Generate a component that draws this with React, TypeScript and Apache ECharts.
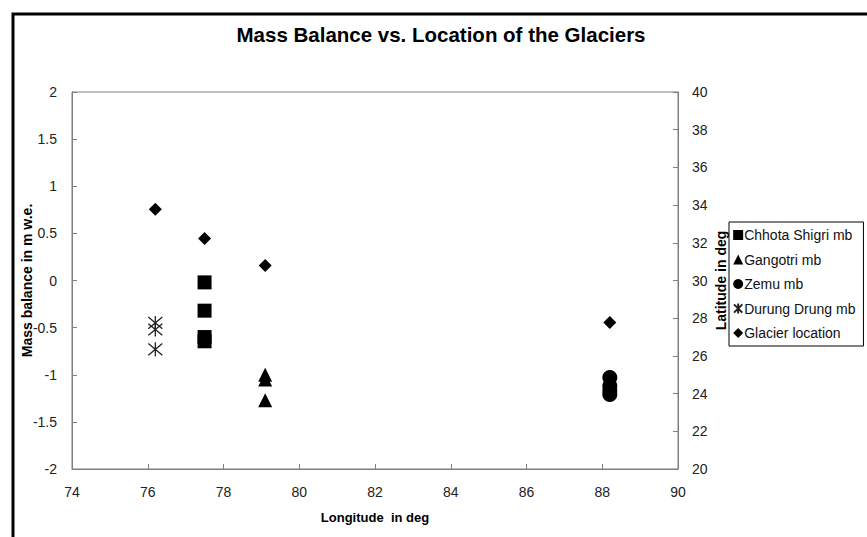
import React, { useEffect, useRef } from "react";
import * as echarts from "echarts";

const seriesNames = ["Chhota Shigri mb", "Gangotri mb", "Zemu mb", "Durung Drung mb", "Glacier location"];

const chhotaLon = [77.5, 77.5, 77.5, 77.5];
const chhotaMb = [-0.02, -0.32, -0.6, -0.645];

const gangotriLon = [79.1, 79.1, 79.1];
const gangotriMb = [-1.0, -1.05, -1.27];

const zemuLon = [88.2, 88.2, 88.2, 88.2];
const zemuMb = [-1.03, -1.12, -1.17, -1.21];

const durungLon = [76.2, 76.2, 76.2];
const durungMb = [-0.45, -0.52, -0.73];

const locLon = [76.2, 77.5, 79.1, 88.2];
const locLat = [33.78, 32.23, 30.8, 27.77];

const xTicks = [74, 76, 78, 80, 82, 84, 86, 88, 90];

const pairs = (xs: number[], ys: number[]) => xs.map((x, i) => [x, ys[i]]);

const ASTERISK = "path://M0,0 L10,10 M10,0 L0,10 M5,-1 L5,11";

export default function App() {
  const ref = useRef<HTMLDivElement>(null);
  useEffect(() => {
    document.body.style.margin = "0";
    const chart = echarts.init(ref.current!, null, { renderer: "svg" });
    const font = "Liberation Sans, Arial, sans-serif";
    const axisLineStyle = { color: "#7f7f7f", width: 1 };
    const solid = { color: "#000", opacity: 1 };
    chart.setOption({
      animation: false,
      backgroundColor: "#ffffff",
      textStyle: { fontFamily: font },
      title: {
        text: "Mass Balance vs. Location of the Glaciers",
        left: 436,
        top: 19,
        textAlign: "center",
        textStyle: { fontFamily: font, fontSize: 20.5, fontWeight: "bold", color: "#000" },
      },
      grid: {
        left: 72,
        right: 189,
        top: 92,
        bottom: 68,
        show: true,
        borderColor: "#7f7f7f",
        borderWidth: 1,
        backgroundColor: "transparent",
      },
      legend: {
        orient: "vertical",
        left: 729,
        top: 222,
        padding: [6, 8, 6, 4],
        itemWidth: 10,
        itemHeight: 10,
        itemGap: 10.5,
        borderColor: "#000",
        borderWidth: 1,
        backgroundColor: "#fff",
        textStyle: { fontFamily: font, fontSize: 14, color: "#111", padding: [0, 0, 0, -4] },
        data: seriesNames,
      },
      xAxis: {
        type: "value",
        min: 74,
        max: 90,
        interval: 2,
        name: "Longitude  in deg",
        nameLocation: "middle",
        nameGap: 42,
        nameMoveOverlap: false,
        nameTextStyle: { fontFamily: font, fontSize: 13, fontWeight: "bold", color: "#000" },
        axisLine: { show: true, onZero: false, lineStyle: axisLineStyle },
        axisTick: { show: true, inside: true, length: 5, lineStyle: axisLineStyle },
        axisLabel: {
          margin: 16,
          fontSize: 14,
          color: "#222",
          formatter: (v: number) => (xTicks.includes(v) ? String(v) : ""),
        },
        splitLine: { show: false },
      },
      yAxis: [
        {
          type: "value",
          min: -2,
          max: 2,
          interval: 0.5,
          name: "Mass balance in m w.e.",
          nameLocation: "middle",
          nameGap: 38,
          nameMoveOverlap: false,
          nameTextStyle: { fontFamily: font, fontSize: 14, fontWeight: "bold", color: "#000" },
          axisLine: { show: true, onZero: false, lineStyle: axisLineStyle },
          axisTick: { show: true, inside: true, length: 5, lineStyle: axisLineStyle },
          axisLabel: { margin: 15, fontSize: 14, color: "#222" },
          splitLine: { show: false },
        },
        {
          type: "value",
          min: 20,
          max: 40,
          interval: 2,
          position: "right",
          name: "Latitude in deg",
          nameLocation: "middle",
          nameGap: 36,
          nameMoveOverlap: false,
          nameRotate: 90,
          nameTextStyle: { fontFamily: font, fontSize: 14, fontWeight: "bold", color: "#000" },
          axisLine: { show: true, onZero: false, lineStyle: axisLineStyle },
          axisTick: { show: true, inside: true, length: 5, lineStyle: axisLineStyle },
          axisLabel: { margin: 14, fontSize: 14, color: "#222" },
          splitLine: { show: false },
        },
      ],
      series: [
        {
          name: seriesNames[0],
          type: "scatter",
          symbol: "rect",
          symbolSize: 14,
          itemStyle: solid,
          data: pairs(chhotaLon, chhotaMb),
        },
        {
          name: seriesNames[1],
          type: "scatter",
          symbol: "triangle",
          symbolSize: 14,
          itemStyle: solid,
          data: pairs(gangotriLon, gangotriMb),
        },
        {
          name: seriesNames[2],
          type: "scatter",
          symbol: "circle",
          symbolSize: 15,
          itemStyle: solid,
          data: pairs(zemuLon, zemuMb),
        },
        {
          name: seriesNames[3],
          type: "scatter",
          symbol: ASTERISK,
          symbolSize: 14,
          itemStyle: { color: "transparent", borderColor: "#222", borderWidth: 1.3, opacity: 1 },
          data: pairs(durungLon, durungMb),
        },
        {
          name: seriesNames[4],
          type: "scatter",
          symbol: "diamond",
          symbolSize: 13,
          yAxisIndex: 1,
          itemStyle: solid,
          data: pairs(locLon, locLat),
        },
      ],
      graphic: [
        {
          type: "polyline",
          shape: { points: [[13, 537], [13, 14], [867, 14]] },
          style: { stroke: "#000", lineWidth: 3, fill: "none" },
          silent: true,
        },
      ],
    });
    return () => chart.dispose();
  }, []);
  return (
    <div
      ref={ref}
      style={{ position: "absolute", left: 0, top: 0, width: 867, height: 537 }}
    />
  );
}
